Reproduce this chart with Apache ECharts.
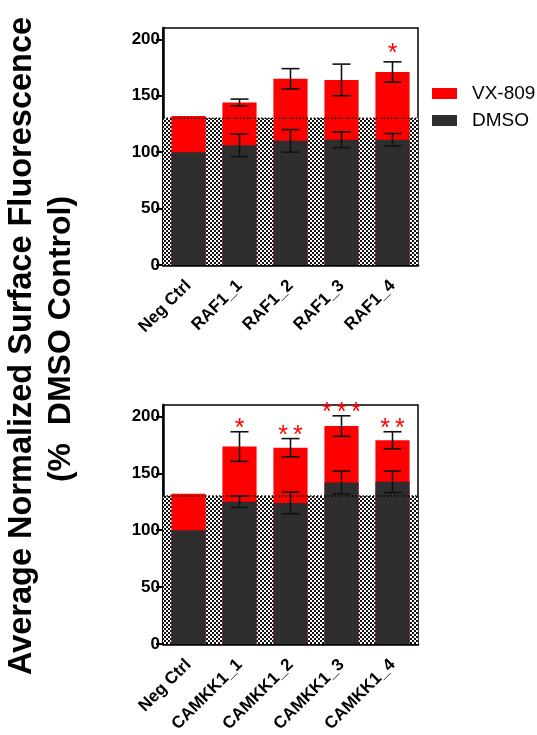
<!DOCTYPE html>
<html>
<head>
<meta charset="utf-8">
<script src="https://cdn.jsdelivr.net/npm/echarts@6/dist/echarts.min.js"></script>
<style>
  html, body { margin: 0; padding: 0; background: #fff; }
  #chart { width: 537px; height: 735px; }
</style>
</head>
<body>
<div id="chart"></div>
<script>
// RAF1 knockdowns
const rafCategories = ['Neg Ctrl', 'RAF1_1', 'RAF1_2', 'RAF1_3', 'RAF1_4'];
const rafDmso = [100, 106, 110, 111, 111];
const rafDmsoErr = [0, 10, 10, 7, 5.5];
const rafVx = [132, 144, 165, 164, 171];
const rafVxErr = [0, 3, 9, 14, 9];
const rafSig = ['', '', '', '', '*'];

// CAMKK1 knockdowns
const camCategories = ['Neg Ctrl', 'CAMKK1_1', 'CAMKK1_2', 'CAMKK1_3', 'CAMKK1_4'];
const camDmso = [100, 125, 124, 142, 142.5];
const camDmsoErr = [0, 5, 9.5, 10, 9.5];
const camVx = [132, 173.5, 172.5, 191.5, 179];
const camVxErr = [0, 13, 8, 9, 7.5];
const camSig = ['', '*', '**', '***', '**'];

const yTicks = [0, 50, 100, 150, 200];
const yMax = 210;
const threshold = 130;   // upper edge of the hatched reference band

const FONT = '"Liberation Sans", Arial, Helvetica, sans-serif';
const RED = '#ff0000';
const DARK = '#2e2e2e';

// small black/white checkerboard tile for the reference band
function checkerTile() {
  const c = document.createElement('canvas');
  c.width = 4; c.height = 4;
  const g = c.getContext('2d');
  g.fillStyle = '#ffffff'; g.fillRect(0, 0, 4, 4);
  g.fillStyle = '#111111'; g.fillRect(0, 0, 2, 2); g.fillRect(2, 2, 2, 2);
  return c;
}
const tile = checkerTile();

const panels = [
  { cats: rafCategories, dmso: rafDmso, dmsoErr: rafDmsoErr, vx: rafVx, vxErr: rafVxErr, sig: rafSig,
    grid: { left: 163, top: 28, width: 255, height: 237 }, starLift: -5 },
  { cats: camCategories, dmso: camDmso, dmsoErr: camDmsoErr, vx: camVx, vxErr: camVxErr, sig: camSig,
    grid: { left: 163, top: 405, width: 255, height: 241 }, starLift: -10 }
];

const grids = [], xAxes = [], yAxes = [], series = [];

panels.forEach((p, gi) => {
  grids.push(Object.assign({ show: true, borderColor: '#000', borderWidth: 1.5, backgroundColor: 'transparent' }, p.grid));

  xAxes.push({
    gridIndex: gi, type: 'category', data: p.cats,
    axisLine: { lineStyle: { color: '#000', width: 2.5 } },
    axisTick: { alignWithLabel: true, length: 7, lineStyle: { color: '#000', width: 2 } },
    axisLabel: { interval: 0, rotate: 45, margin: 18, color: '#000', fontSize: 17, fontWeight: 'bold', fontFamily: FONT }
  });

  yAxes.push({
    gridIndex: gi, type: 'value', min: 0, max: yMax, interval: 50,
    axisLine: { show: true, lineStyle: { color: '#000', width: 2.5 } },
    axisTick: { show: true, length: 7, customValues: yTicks, lineStyle: { color: '#000', width: 2 } },
    axisLabel: { customValues: yTicks, margin: 3, color: '#000', fontSize: 17, fontWeight: 'bold', fontFamily: FONT },
    splitLine: { show: false }
  });

  // hatched band from 0 up to the threshold, spanning the whole plot
  series.push({
    type: 'custom', xAxisIndex: gi, yAxisIndex: gi, z: 1, silent: true,
    data: [[0, threshold]],
    renderItem: (params, api) => {
      const cs = params.coordSys;
      const top = api.coord([0, api.value(1)])[1];
      const bottom = api.coord([0, 0])[1];
      return {
        type: 'rect',
        shape: { x: cs.x, y: top, width: cs.width, height: bottom - top },
        style: { fill: { image: tile, repeat: 'repeat' } }
      };
    }
  });

  series.push({
    name: 'VX-809', type: 'bar', xAxisIndex: gi, yAxisIndex: gi, z: 2,
    barWidth: '67%', barGap: '-100%',
    itemStyle: { color: RED },
    data: p.vx
  });
  series.push({
    name: 'DMSO', type: 'bar', xAxisIndex: gi, yAxisIndex: gi, z: 3,
    barWidth: '67%', barGap: '-100%',
    itemStyle: { color: DARK },
    data: p.dmso
  });

  // dotted line marking the threshold
  series.push({
    type: 'custom', xAxisIndex: gi, yAxisIndex: gi, z: 4, silent: true,
    data: [[0, threshold]],
    renderItem: (params, api) => {
      const cs = params.coordSys;
      const y = api.coord([0, api.value(1)])[1];
      return {
        type: 'line',
        shape: { x1: cs.x, y1: y, x2: cs.x + cs.width, y2: y },
        style: { stroke: '#000', lineWidth: 1.5, lineDash: [1.5, 2] }
      };
    }
  });

  // error bars for both treatments
  const errData = [];
  p.cats.forEach((c, i) => {
    if (p.dmsoErr[i] > 0) errData.push([i, p.dmso[i], p.dmsoErr[i]]);
    if (p.vxErr[i] > 0) errData.push([i, p.vx[i], p.vxErr[i]]);
  });
  series.push({
    type: 'custom', xAxisIndex: gi, yAxisIndex: gi, z: 5, silent: true,
    data: errData,
    renderItem: (params, api) => {
      const i = api.value(0), v = api.value(1), e = api.value(2);
      const hi = api.coord([i, v + e]);
      const lo = api.coord([i, v - e]);
      const hw = 9;
      const st = { stroke: '#111', lineWidth: 1.6 };
      return {
        type: 'group',
        children: [
          { type: 'line', shape: { x1: hi[0], y1: hi[1], x2: lo[0], y2: lo[1] }, style: st },
          { type: 'line', shape: { x1: hi[0] - hw, y1: hi[1], x2: hi[0] + hw, y2: hi[1] }, style: st },
          { type: 'line', shape: { x1: lo[0] - hw, y1: lo[1], x2: lo[0] + hw, y2: lo[1] }, style: st }
        ]
      };
    }
  });

  // significance asterisks above the VX-809 error bars (thin gaps between stars)
  const sigData = p.cats.map((c, i) => [i, p.vx[i] + p.vxErr[i]]);
  series.push({
    type: 'custom', xAxisIndex: gi, yAxisIndex: gi, z: 6, silent: true,
    data: sigData,
    renderItem: (params, api) => {
      const txt = p.sig[params.dataIndex];
      if (!txt) return null;
      const pt = api.coord([api.value(0), api.value(1)]);
      return {
        type: 'text',
        x: pt[0], y: pt[1] - p.starLift,
        style: { text: txt.split('').join('\u2009'), fill: RED, fontSize: 25, fontFamily: FONT,
                 align: 'center', verticalAlign: 'bottom' }
      };
    }
  });
});

const chart = echarts.init(document.getElementById('chart'), null, { renderer: 'canvas' });
chart.setOption({
  animation: false,
  backgroundColor: '#fff',
  grid: grids,
  xAxis: xAxes,
  yAxis: yAxes,
  legend: {
    data: ['VX-809', 'DMSO'],
    orient: 'vertical', left: 432, top: 84, padding: 0,
    icon: 'rect', itemWidth: 25, itemHeight: 11, itemGap: 8,
    selectedMode: false,
    textStyle: { color: '#000', fontSize: 19, fontFamily: FONT, padding: [0, 0, 0, 10] }
  },
  graphic: [
    {
      type: 'text', x: 22, y: 346, rotation: Math.PI / 2,
      style: { text: 'Average Normalized Surface Fluorescence', fill: '#000',
               font: 'bold 32.5px ' + FONT, align: 'center', verticalAlign: 'middle' }
    },
    {
      type: 'text', x: 61, y: 339, rotation: Math.PI / 2,
      style: { text: '(%  DMSO Control)', fill: '#000',
               font: 'bold 32px ' + FONT, align: 'center', verticalAlign: 'middle' }
    }
  ],
  series: series
});
</script>
</body>
</html>
